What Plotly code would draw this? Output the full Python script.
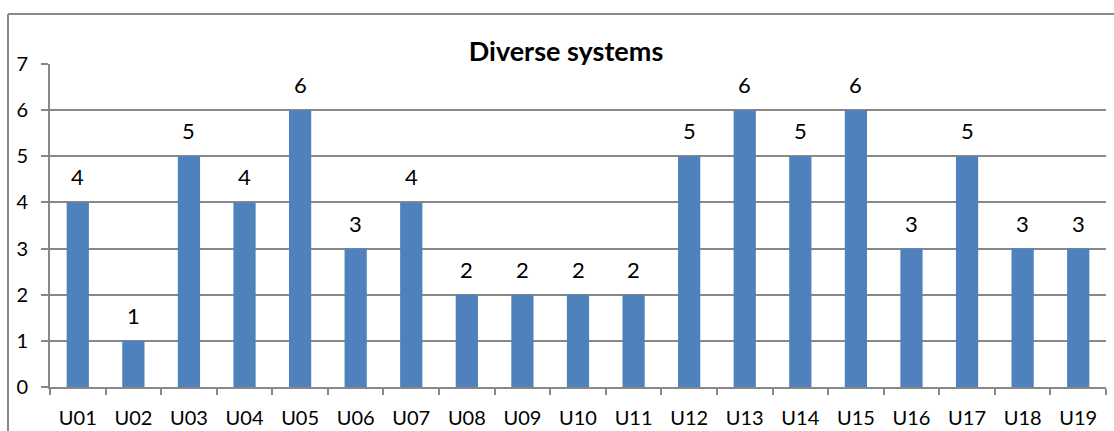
import plotly.graph_objects as go

# Number of systems per user
users = ["U01", "U02", "U03", "U04", "U05", "U06", "U07", "U08", "U09", "U10",
         "U11", "U12", "U13", "U14", "U15", "U16", "U17", "U18", "U19"]
systems = [4, 1, 5, 4, 6, 3, 4, 2, 2, 2, 2, 5, 6, 5, 6, 3, 5, 3, 3]
y_ticks = [0, 1, 2, 3, 4, 5, 6, 7]

FONT = "Lato"
GRID = "#888888"
BAR = "#4F81BD"

W, H = 1114, 431
ML, MR, MT, MB = 50, 8, 64, 44
pw, ph = W - ML - MR, H - MT - MB

fig = go.Figure(
    go.Bar(
        x=users,
        y=systems,
        marker=dict(color=BAR, line=dict(width=0)),
        hoverinfo="x+y",
    )
)

# Value labels above each bar
for u, v in zip(users, systems):
    fig.add_annotation(
        x=u, y=v, text=str(v), showarrow=False,
        yanchor="bottom", yshift=10,
        font=dict(family=FONT, size=22, color="#000000"),
    )

# Chart frame (top and left edges)
fx = (8 - ML) / pw
fy = 1 + (MT - 14) / ph
fig.add_shape(type="line", xref="paper", yref="paper",
              x0=fx, x1=1.2, y0=fy, y1=fy, line=dict(color=GRID, width=2))
fig.add_shape(type="line", xref="paper", yref="paper",
              x0=fx, x1=fx, y0=fy, y1=-0.3, line=dict(color=GRID, width=2))

fig.update_layout(
    width=W, height=H,
    margin=dict(l=ML, r=MR, t=MT, b=MB),
    paper_bgcolor="white", plot_bgcolor="white",
    bargap=0.6,
    showlegend=False,
    title=dict(
        text="<b>Diverse systems</b>",
        x=(566 - ML) / pw, xref="paper", xanchor="center",
        y=1 - 52 / H, yanchor="middle",
        font=dict(family=FONT, size=27, color="#000000"),
    ),
    xaxis=dict(
        type="category",
        automargin=False,
        showline=True, linecolor=GRID, linewidth=2,
        ticks="outside", tickson="boundaries", ticklen=6, tickcolor=GRID, tickwidth=2,
        tickfont=dict(family=FONT, size=20, color="#000000"),
        ticklabelstandoff=12,
        showgrid=False,
    ),
    yaxis=dict(
        range=[0, 7],
        tickvals=y_ticks,
        automargin=False,
        showline=True, linecolor=GRID, linewidth=2,
        ticks="outside", ticklen=7, tickcolor=GRID, tickwidth=2,
        showgrid=True, gridcolor=GRID, gridwidth=2,
        zeroline=False,
        tickfont=dict(family=FONT, size=20, color="#000000"),
        ticklabelstandoff=9,
    ),
)

fig.write_html("out.html")
